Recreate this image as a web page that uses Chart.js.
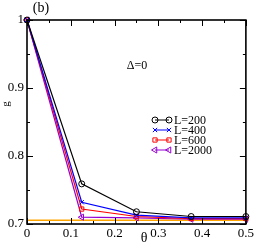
<!DOCTYPE html>
<html>
<head>
<meta charset="utf-8">
<script src="https://cdn.jsdelivr.net/npm/chart.js@4"></script>
<style>
  html, body { margin: 0; padding: 0; background: #fff; }
  #wrap { width: 256px; height: 245px; }
</style>
</head>
<body>
<div id="wrap"><canvas id="gChart" width="256" height="245"></canvas></div>
<script>
const thetas = [0, 0.125, 0.25, 0.375, 0.5];
const g200 = [1.0, 0.759, 0.718, 0.711, 0.711];
const g400 = [1.0, 0.732, 0.713, 0.709, 0.709];
const g600 = [1.0, 0.722, 0.711, 0.708, 0.708];
const g2000 = [1.0, 0.710, 0.709, 0.707, 0.707];
const limitX = [0, 0.5];
const limitY = [0.7055, 0.7055];
const seriesNames = ['L=200', 'L=400', 'L=600', 'L=2000'];

const SERIF = '"Liberation Serif", "DejaVu Serif", serif';

const toPts = (xs, ys) => xs.map((x, i) => ({ x, y: ys[i] }));

function series(label, ys, color, style, rot, radius) {
  return {
    label,
    data: toPts(thetas, ys),
    borderColor: color,
    backgroundColor: 'transparent',
    pointBorderColor: color,
    pointBackgroundColor: 'transparent',
    pointStyle: style,
    pointRotation: rot,
    pointRadius: radius,
    pointBorderWidth: 1,
    borderWidth: 1.2,
    tension: 0,
    clip: false
  };
}

// frame, inward ticks, legend and text
const decor = {
  id: 'decor',
  afterDraw(chart) {
    const { ctx, chartArea: a, scales } = chart;
    const xs = scales.x, ys = scales.y;
    ctx.save();
    ctx.strokeStyle = '#000';
    ctx.lineWidth = 1;
    for (let v = 0; v <= 0.5001; v += 0.05) {
      const px = Math.round(xs.getPixelForValue(v)) + 0.5;
      const len = Math.round(v * 100) % 10 === 0 ? 6 : 3;
      ctx.beginPath();
      ctx.moveTo(px, a.bottom); ctx.lineTo(px, a.bottom - len);
      ctx.moveTo(px, a.top); ctx.lineTo(px, a.top + len);
      ctx.stroke();
    }
    for (let v = 0.7; v <= 1.0001; v += 0.05) {
      const py = Math.round(ys.getPixelForValue(v)) + 0.5;
      const len = Math.round(v * 100) % 10 === 0 ? 6 : 3;
      ctx.beginPath();
      ctx.moveTo(a.left, py); ctx.lineTo(a.left + len, py);
      ctx.moveTo(a.right, py); ctx.lineTo(a.right - len, py);
      ctx.stroke();
    }
    ctx.lineWidth = 1.6;
    ctx.strokeRect(a.left, a.top, a.right - a.left, a.bottom - a.top);

    // legend
    const rows = chart.data.datasets.slice(0, 4);
    rows.forEach((ds, i) => {
      const y = 120 + i * 10;
      ctx.strokeStyle = ds.borderColor;
      ctx.fillStyle = 'rgba(0,0,0,0)';
      ctx.lineWidth = 1;
      ctx.beginPath();
      ctx.moveTo(155, y); ctx.lineTo(169, y);
      ctx.stroke();
      [155, 169].forEach(px => {
        Chart.helpers.drawPoint(ctx, {
          pointStyle: ds.pointStyle, rotation: ds.pointRotation,
          radius: ds.pointRadius, borderWidth: 1
        }, px, y);
      });
      ctx.fillStyle = '#000';
      ctx.font = '12px ' + SERIF;
      ctx.textAlign = 'left';
      ctx.textBaseline = 'middle';
      ctx.fillText(ds.label, 174, y + 1);
    });

    ctx.fillStyle = '#000';
    ctx.font = '14px ' + SERIF;
    ctx.textAlign = 'center';
    ctx.textBaseline = 'middle';
    ctx.fillText('(b)', 41, 8);
    ctx.font = '12px ' + SERIF;
    ctx.fillText('\u0394=0', 137, 66);
    ctx.font = '14px ' + SERIF;
    ctx.fillText('\u03b8', 144, 238);
    ctx.save();
    ctx.translate(6, 104);
    ctx.rotate(-Math.PI / 2);
    ctx.font = '11px ' + SERIF;
    ctx.fillText('g', 0, 0);
    ctx.restore();
    ctx.restore();
  }
};

new Chart(document.getElementById('gChart').getContext('2d'), {
  type: 'line',
  data: {
    datasets: [
      series(seriesNames[0], g200, '#000000', 'circle', 0, 3),
      series(seriesNames[1], g400, '#0000ff', 'crossRot', 0, 3),
      series(seriesNames[2], g600, '#ff0000', 'rect', 0, 3),
      series(seriesNames[3], g2000, '#9400d3', 'triangle', -90, 3.5),
      {
        label: 'limit',
        data: toPts(limitX, limitY),
        borderColor: '#ffa500',
        borderWidth: 1.5,
        pointRadius: 0,
        tension: 0
      }
    ]
  },
  options: {
    responsive: false,
    animation: false,
    layout: { padding: { left: 0, top: 20, right: 9, bottom: 0 } },
    plugins: { legend: { display: false }, tooltip: { enabled: false } },
    scales: {
      x: {
        type: 'linear',
        min: 0, max: 0.5,
        afterFit: s => { s.height = 21; },
        grid: { display: false, drawTicks: false },
        border: { display: false },
        ticks: {
          stepSize: 0.1, padding: 2, color: '#000',
          font: { family: SERIF, size: 13 },
          callback: v => String(Math.round(v * 10) / 10)
        }
      },
      y: {
        type: 'linear',
        min: 0.7, max: 1.0,
        afterFit: s => { s.width = 27; },
        grid: { display: false, drawTicks: false },
        border: { display: false },
        ticks: {
          stepSize: 0.1, padding: 3, color: '#000',
          font: { family: SERIF, size: 13 },
          callback: v => String(Math.round(v * 10) / 10)
        }
      }
    }
  },
  plugins: [decor]
});
</script>
</body>
</html>
